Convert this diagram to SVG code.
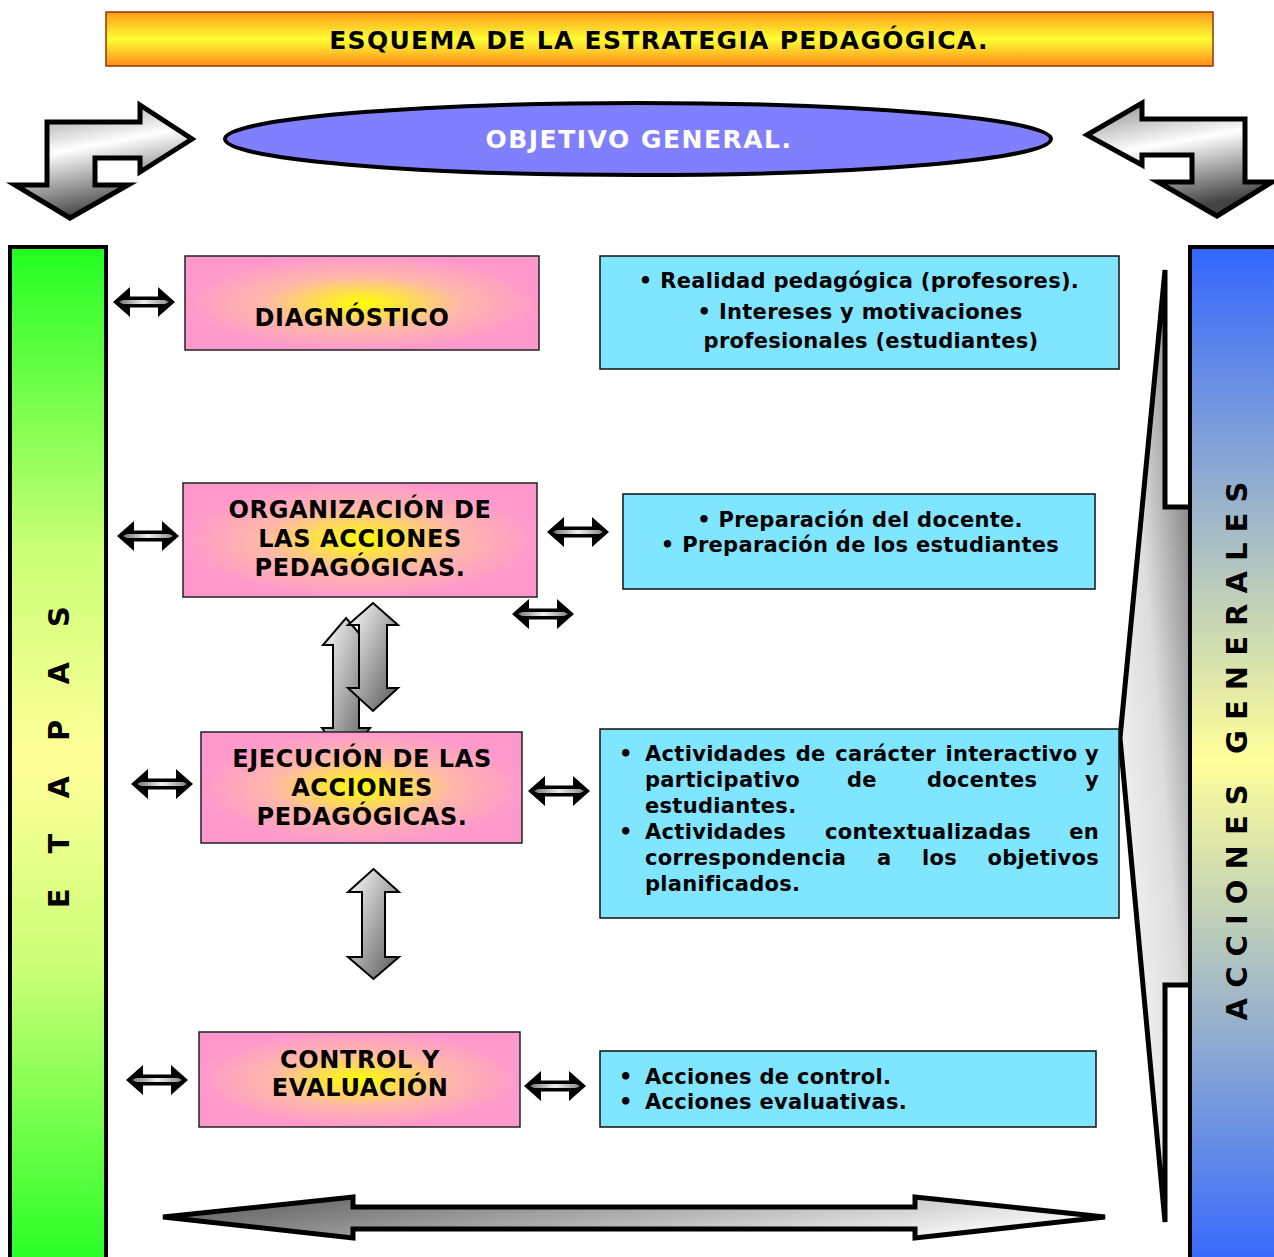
<svg xmlns="http://www.w3.org/2000/svg" xmlns:xlink="http://www.w3.org/1999/xlink" width="1274" height="1257" viewBox="0 0 1274 1257">
<style>
.t{font-family:"DejaVu Sans","Liberation Sans",sans-serif;font-weight:bold;fill:#000}
.pk{fill:url(#gPink);stroke:#222;stroke-width:1.5}
.cy{fill:#80e5ff;stroke:#111;stroke-width:1.5}
.pt{font-size:24px;text-anchor:middle;letter-spacing:0.6px}
.ct{font-size:21px;letter-spacing:0.3px}
.mid{text-anchor:middle}
.end{text-anchor:end}
.va{fill:url(#gVert);stroke:#000;stroke-width:2}
</style>
<defs>
<linearGradient id="gTitle" x1="0" y1="0" x2="0" y2="1">
<stop offset="0" stop-color="#ff9a1a"/><stop offset="0.5" stop-color="#ffff33"/><stop offset="1" stop-color="#ff8c1a"/>
</linearGradient>
<radialGradient id="gPink" cx="0.5" cy="0.5" r="0.5">
<stop offset="0" stop-color="#ffff00"/><stop offset="0.55" stop-color="#ffb8a8"/><stop offset="1" stop-color="#ff99cc"/>
</radialGradient>
<linearGradient id="gGreen" x1="0" y1="0" x2="0" y2="1">
<stop offset="0" stop-color="#22ff22"/><stop offset="0.3" stop-color="#ccff77"/><stop offset="0.5" stop-color="#ffff99"/><stop offset="0.7" stop-color="#ccff77"/><stop offset="1" stop-color="#22ff22"/>
</linearGradient>
<linearGradient id="gBlue" x1="0" y1="0" x2="0" y2="1">
<stop offset="0" stop-color="#3366ff"/><stop offset="0.5" stop-color="#ffff99"/><stop offset="1" stop-color="#3366ff"/>
</linearGradient>
<linearGradient id="gMetal" x1="0" y1="0" x2="0.3" y2="1">
<stop offset="0" stop-color="#8a8a8a"/><stop offset="0.45" stop-color="#ffffff"/><stop offset="1" stop-color="#444"/>
</linearGradient>
<linearGradient id="gVert" x1="0" y1="0" x2="1" y2="1">
<stop offset="0" stop-color="#ffffff"/><stop offset="1" stop-color="#555"/>
</linearGradient>
<linearGradient id="gBig" x1="0" y1="1" x2="1" y2="0">
<stop offset="0" stop-color="#ffffff"/><stop offset="0.5" stop-color="#dddddd"/><stop offset="1" stop-color="#555"/>
</linearGradient>
<linearGradient id="gBottom" x1="0" y1="0" x2="1" y2="0.3">
<stop offset="0" stop-color="#555"/><stop offset="1" stop-color="#f2f2f2"/>
</linearGradient>
<linearGradient id="gBar" x1="0" y1="0" x2="1" y2="0">
<stop offset="0" stop-color="#777"/><stop offset="0.5" stop-color="#eee"/><stop offset="1" stop-color="#888"/>
</linearGradient>
<g id="dbl">
<path d="M-31,0 L-14,-15 L-14,-5.5 L14,-5.5 L14,-15 L31,0 L14,15 L14,5.5 L-14,5.5 L-14,15 Z" fill="#000"/>
<path d="M-25,0 L-21,-2 L21,-2 L25,0 L21,2 L-21,2 Z" fill="url(#gBar)"/>
</g>
</defs>

<g id="title">
<rect x="106" y="12" width="1107" height="54" fill="url(#gTitle)" stroke="#993300" stroke-width="1.5"/>
<text class="t mid" x="659" y="49" font-size="25" letter-spacing="1.3">ESQUEMA DE LA ESTRATEGIA PEDAGÓGICA.</text>
</g>

<g id="objetivo">
<ellipse cx="638" cy="139" rx="413" ry="36" fill="#8080ff" stroke="#000" stroke-width="4"/>
<text class="t mid" x="639" y="148" font-size="25" letter-spacing="1.5" style="fill:#fff">OBJETIVO GENERAL.</text>
</g>

<g id="connectors">
<path d="M47,122 L140,122 L140,105 L192,139 L140,172 L140,158 L95,158 L95,185 L128,185 L70,218 L15,185 L47,185 Z" fill="url(#gMetal)" stroke="#000" stroke-width="5" stroke-linejoin="miter"/>
<path d="M1087,135 L1142,103 L1142,119 L1245,119 L1245,182 L1272,182 L1217,216 L1158,182 L1192,182 L1192,155 L1142,155 L1142,165 Z" fill="url(#gMetal)" stroke="#000" stroke-width="5"/>
<path d="M1165,270 L1165,507 L1200,507 L1200,985 L1165,985 L1165,1222 L1120,738 Z" fill="url(#gBig)" stroke="#000" stroke-width="5"/>
<path d="M163,1217 L353,1197 L353,1207 L915,1207 L915,1197 L1105,1217 L915,1238 L915,1229 L353,1229 L353,1238 Z" fill="url(#gBottom)" stroke="#000" stroke-width="5"/>
<path class="va" d="M346,618 L369,645 L359,645 L359,728 L370,728 L346,760 L322,728 L333,728 L333,645 L323,645 Z"/>
<use xlink:href="#dbl" x="144" y="302"/>
<use xlink:href="#dbl" x="148" y="536"/>
<use xlink:href="#dbl" x="578" y="532"/>
<use xlink:href="#dbl" x="543" y="614"/>
<use xlink:href="#dbl" x="162" y="784"/>
<use xlink:href="#dbl" x="559" y="791"/>
<use xlink:href="#dbl" x="157" y="1080"/>
<use xlink:href="#dbl" x="555" y="1086"/>
</g>

<g id="etapas">
<rect x="10" y="247" width="96" height="1025" fill="url(#gGreen)" stroke="#000" stroke-width="4"/>
<text class="t mid" font-size="29" letter-spacing="12.5" transform="translate(69,751) rotate(-90)">E T A P A S</text>
</g>

<g id="acciones-generales">
<rect x="1190" y="247" width="95" height="1025" fill="url(#gBlue)" stroke="#000" stroke-width="4"/>
<text class="t mid" font-size="29" letter-spacing="0" xml:space="preserve" transform="translate(1247,751) rotate(-90)">A C C I O N E S   G E N E R A L E S</text>
</g>

<g id="diagnostico">
<rect class="pk" x="185" y="256" width="354" height="94"/>
<text class="t pt" x="352" y="326">DIAGNÓSTICO</text>
</g>

<g id="organizacion">
<rect class="pk" x="183" y="483" width="354" height="114"/>
<text class="t pt" x="360" y="518">ORGANIZACIÓN DE</text>
<text class="t pt" x="360" y="547">LAS ACCIONES</text>
<text class="t pt" x="360" y="576">PEDAGÓGICAS.</text>
</g>

<g id="vert-arrow-front">
<path class="va" d="M373,603 L398,625 L387,625 L387,688 L398,688 L373,711 L348,688 L359,688 L359,625 L348,625 Z"/>
</g>

<g id="ejecucion">
<rect class="pk" x="201" y="732" width="321" height="111"/>
<text class="t pt" x="362" y="767">EJECUCIÓN DE LAS</text>
<text class="t pt" x="362" y="796">ACCIONES</text>
<text class="t pt" x="362" y="825">PEDAGÓGICAS.</text>
</g>

<g id="vert-arrow-lower">
<path class="va" d="M373.5,869 L399,892 L385,892 L385,957 L399,957 L373.5,979 L348,957 L362,957 L362,892 L348,892 Z"/>
</g>

<g id="control">
<rect class="pk" x="199" y="1032" width="321" height="95"/>
<text class="t pt" x="360" y="1068">CONTROL Y</text>
<text class="t pt" x="360" y="1096">EVALUACIÓN</text>
</g>

<g id="box-diagnostico">
<rect class="cy" x="600" y="256" width="519" height="113"/>
<text class="t ct mid" x="859" y="288">• Realidad pedagógica (profesores).</text>
<text class="t ct mid" x="860" y="319">• Intereses y motivaciones</text>
<text class="t ct mid" x="871" y="348">profesionales (estudiantes)</text>
</g>

<g id="box-organizacion">
<rect class="cy" x="623" y="494" width="472" height="95"/>
<text class="t ct mid" x="860" y="527">• Preparación del docente.</text>
<text class="t ct mid" x="860" y="552">• Preparación de los estudiantes</text>
</g>

<g id="box-ejecucion">
<rect class="cy" x="600" y="729" width="519" height="189"/>
<text class="t ct" x="619" y="761">•</text>
<text class="t ct" x="645" y="761" word-spacing="2">Actividades de carácter interactivo</text>
<text class="t ct end" x="1099" y="761">y</text>
<text class="t ct" x="645" y="787">participativo</text>
<text class="t ct" x="847" y="787">de</text>
<text class="t ct" x="927" y="787">docentes</text>
<text class="t ct end" x="1099" y="787">y</text>
<text class="t ct" x="645" y="813">estudiantes.</text>
<text class="t ct" x="619" y="839">•</text>
<text class="t ct" x="645" y="839">Actividades</text>
<text class="t ct" x="825" y="839">contextualizadas</text>
<text class="t ct end" x="1099" y="839">en</text>
<text class="t ct" x="645" y="865">correspondencia</text>
<text class="t ct" x="877" y="865">a</text>
<text class="t ct" x="922" y="865">los</text>
<text class="t ct end" x="1099" y="865">objetivos</text>
<text class="t ct" x="645" y="891">planificados.</text>
</g>

<g id="box-control">
<rect class="cy" x="600" y="1051" width="496" height="76"/>
<text class="t ct" x="619" y="1084">•</text>
<text class="t ct" x="645" y="1084">Acciones de control.</text>
<text class="t ct" x="619" y="1109">•</text>
<text class="t ct" x="645" y="1109">Acciones evaluativas.</text>
</g>
</svg>
